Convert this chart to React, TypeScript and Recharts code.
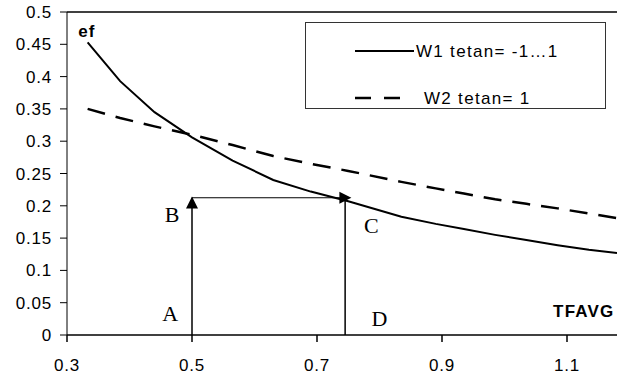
import React from "react";
import {
  LineChart,
  Line,
  XAxis,
  YAxis,
  ReferenceLine,
  ReferenceDot,
  Legend,
} from "recharts";

// TFAVG sample points shared by both curves
const tfavg = [0.333, 0.385, 0.44, 0.5, 0.565, 0.63, 0.69, 0.75, 0.835, 0.89, 0.935, 0.985, 1.035, 1.085, 1.135, 1.18];
// efficiency, W1 (tetan = -1…1)
const w1 = [0.453, 0.393, 0.345, 0.306, 0.27, 0.24, 0.222, 0.207, 0.183, 0.172, 0.164, 0.155, 0.147, 0.139, 0.132, 0.127];
// efficiency, W2 (tetan = 1)
const w2 = [0.35, 0.336, 0.323, 0.31, 0.294, 0.277, 0.265, 0.254, 0.237, 0.227, 0.219, 0.21, 0.203, 0.196, 0.188, 0.181];

const xTicks = [0.3, 0.5, 0.7, 0.9, 1.1];
const yTicks = [0, 0.05, 0.1, 0.15, 0.2, 0.25, 0.3, 0.35, 0.4, 0.45, 0.5];

const seriesNames = ["W1 tetan= -1…1", "W2 tetan= 1"];

// construction: A -> B -> C, with C dropped to D
const pointA = 0.5;
const pointD = 0.745;
const levelBC = 0.2125;

const data = tfavg.map((x, i) => ({ tfavg: x, w1: w1[i], w2: w2[i] }));

const SANS = "'Liberation Sans', Arial, sans-serif";
const SERIF = "'Liberation Serif', 'Times New Roman', serif";

const ArrowUp = (p: any) => (
  <polygon points={`${p.cx},${p.cy} ${p.cx - 6},${p.cy + 12} ${p.cx + 6},${p.cy + 12}`} fill="#000" />
);
const ArrowRight = (p: any) => (
  <polygon points={`${p.cx},${p.cy} ${p.cx - 12},${p.cy - 6} ${p.cx - 12},${p.cy + 6}`} fill="#000" />
);

const textShape = (
  value: string,
  opts: { font: string; size: number; weight?: string; anchor?: string; spacing?: number }
) =>
  (p: any) => (
    <text
      x={p.cx}
      y={p.cy}
      dy="0.35em"
      textAnchor={opts.anchor || "middle"}
      fontFamily={opts.font}
      fontSize={opts.size}
      fontWeight={opts.weight || "normal"}
      letterSpacing={opts.spacing || 0}
      fill="#000"
    >
      {value}
    </text>
  );

const LegendBox = () => (
  <svg width={299} height={85} style={{ display: "block", border: "1px solid #333", background: "#fff" }}>
    <line x1={49} y1={28} x2={108} y2={28} stroke="#000" strokeWidth={2} />
    <text x={110} y={28} dy="0.35em" fontFamily={SANS} fontSize={17} letterSpacing={1.3} fill="#000">
      {seriesNames[0]}
    </text>
    <line x1={49} y1={75} x2={94} y2={75} stroke="#000" strokeWidth={2.5} strokeDasharray="16 13" />
    <text x={118} y={75} dy="0.35em" fontFamily={SANS} fontSize={17} letterSpacing={1.3} fill="#000">
      {seriesNames[1]}
    </text>
  </svg>
);

const tickStyle = { fill: "#000", fontFamily: SANS, fontSize: 17, letterSpacing: 0.8 };

export default function App() {
  return (
    <div style={{ position: "absolute", left: 0, top: 0, width: 617, height: 379, background: "#fff" }}>
      <LineChart width={617} height={379} data={data} margin={{ top: 12, right: 0, bottom: 0, left: 0 }}>
        <XAxis
          dataKey="tfavg"
          type="number"
          domain={[0.3, 1.18]}
          ticks={xTicks}
          allowDataOverflow
          height={44}
          stroke="#000"
          strokeWidth={1.5}
          tickSize={7}
          tickMargin={17}
          tickFormatter={(v: number) => v.toFixed(1)}
          tick={tickStyle}
        />
        <YAxis
          type="number"
          domain={[0, 0.5]}
          ticks={yTicks}
          width={67}
          stroke="#000"
          tickSize={7}
          tickMargin={8}
          tick={tickStyle}
        />
        <ReferenceLine y={0.5} stroke="#000" strokeWidth={1.5} />
        <Legend
          layout="horizontal"
          verticalAlign="middle"
          align="center"
          content={() => <LegendBox />}
          wrapperStyle={{ left: 305, top: 22, width: 301, height: 87 }}
        />
        <Line
          type="linear"
          dataKey="w1"
          name={seriesNames[0]}
          stroke="#000"
          strokeWidth={2}
          dot={false}
          isAnimationActive={false}
        />
        <Line
          type="linear"
          dataKey="w2"
          name={seriesNames[1]}
          stroke="#000"
          strokeWidth={2.5}
          strokeDasharray="18 11"
          dot={false}
          isAnimationActive={false}
        />
        <ReferenceLine
          segment={[{ x: pointA, y: 0 }, { x: pointA, y: levelBC }]}
          stroke="#000"
          strokeWidth={1.5}
        />
        <ReferenceLine
          segment={[{ x: pointA, y: levelBC }, { x: pointD, y: levelBC }]}
          stroke="#000"
          strokeWidth={1.2}
        />
        <ReferenceLine
          segment={[{ x: pointD, y: 0 }, { x: pointD, y: levelBC }]}
          stroke="#000"
          strokeWidth={1.5}
        />
        <ReferenceDot x={pointA} y={levelBC + 0.002} r={0} shape={ArrowUp} />
        <ReferenceDot x={pointD + 0.01} y={levelBC} r={0} shape={ArrowRight} />
        <ReferenceDot x={0.465} y={0.034} r={0} shape={textShape("A", { font: SERIF, size: 22 })} />
        <ReferenceDot x={0.468} y={0.187} r={0} shape={textShape("B", { font: SERIF, size: 22 })} />
        <ReferenceDot x={0.787} y={0.17} r={0} shape={textShape("C", { font: SERIF, size: 22 })} />
        <ReferenceDot x={0.8} y={0.026} r={0} shape={textShape("D", { font: SERIF, size: 22 })} />
        <ReferenceDot
          x={0.318}
          y={0.47}
          r={0}
          shape={textShape("ef", { font: SANS, size: 17, weight: "bold", anchor: "start", spacing: 1 })}
        />
        <ReferenceDot
          x={1.176}
          y={0.037}
          r={0}
          shape={textShape("TFAVG", { font: SANS, size: 17, weight: "bold", anchor: "end", spacing: 1.2 })}
        />
      </LineChart>
    </div>
  );
}
